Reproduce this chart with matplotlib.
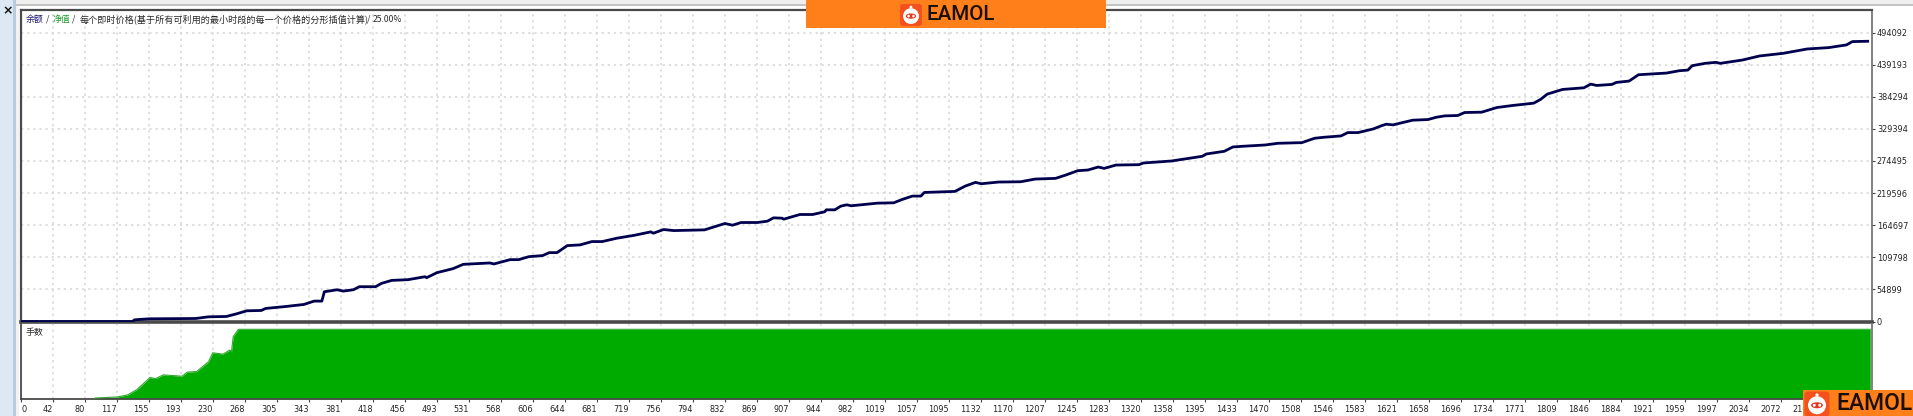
import matplotlib
matplotlib.use("Agg")
import matplotlib.pyplot as plt
from matplotlib.patches import Rectangle, Circle, FancyBboxPatch, Ellipse
from matplotlib.transforms import Affine2D

plt.rcParams['font.family'] = ['Noto Sans CJK SC', 'DejaVu Sans']

W, H = 1913, 416

# Equity curve: bar number / balance
bars = [0, 131, 133, 150, 205, 220, 241, 253, 265, 282, 287, 311, 332, 344, 353, 356, 371, 378, 390, 397,
        416, 423, 435, 454, 474, 476, 488, 507, 519, 550, 555, 574, 584, 596, 612, 620, 629, 641, 656, 670,
        682, 699, 720, 739, 742, 754, 766, 802, 816, 826, 835, 845, 864, 876, 883, 893, 895, 914, 929, 943,
        945, 955, 962, 969, 974, 1005, 1024, 1034, 1046, 1056, 1060, 1096, 1108, 1120, 1127, 1147, 1173, 1190, 1214, 1226,
        1240, 1252, 1264, 1271, 1285, 1312, 1317, 1350, 1386, 1391, 1412, 1422, 1434, 1460, 1475, 1503, 1518, 1529, 1549, 1557,
        1569, 1587, 1597, 1602, 1610, 1633, 1651, 1661, 1671, 1686, 1694, 1714, 1732, 1750, 1775, 1783, 1791, 1809, 1834, 1842,
        1849, 1867, 1872, 1887, 1898, 1931, 1946, 1956, 1961, 1976, 1989, 1994, 2020, 2040, 2068, 2096, 2121, 2142, 2149, 2167]
balance = [0, 0, 2860, 4575, 5147, 8007, 8579, 13154, 18300, 18873, 22300, 25700, 29170, 34900, 34900, 50900, 54300, 52000, 54300, 59500,
           59500, 65200, 70300, 71500, 76600, 74900, 83500, 90400, 97800, 100100, 98400, 105800, 105800, 110900, 112700, 117800, 117800, 129800, 131000, 136700,
           136700, 142400, 147500, 153300, 151000, 157300, 155500, 156700, 163000, 167600, 164700, 169300, 169300, 171600, 177300, 176700, 175000, 183000, 183000, 187600,
           191000, 191000, 197300, 199600, 197900, 202400, 203000, 208700, 214500, 214500, 220700, 222500, 231600, 237900, 235600, 238500, 239000, 243600, 244800, 250500,
           257900, 259100, 264200, 261900, 267600, 268200, 271100, 274500, 282500, 286500, 291100, 298500, 299700, 301900, 304800, 305900, 313400, 315100, 317400, 323100,
           323100, 329400, 335100, 337400, 336300, 344300, 345400, 349400, 351700, 352300, 357400, 358000, 366000, 369400, 373400, 379700, 388900, 396900, 399700, 406000,
           403700, 405500, 408900, 411200, 422000, 424900, 428900, 430000, 437500, 441500, 443200, 441500, 447200, 454100, 458700, 466100, 468400, 473000, 478700, 479300]

# Lot panel (percent of panel maximum)
lot_bars = [87, 113, 125, 136, 148, 151, 158, 167, 189, 195, 206, 220, 225, 237, 245, 247, 249, 255, 2170]
lot_vals = [1.4, 2.9, 5.8, 13.5, 27, 30.8, 29.3, 34.6, 32.7, 38.5, 39.4, 53.4, 66.3, 64.4, 70.2, 67.8, 89.4, 100, 100]

x_labels = ['0', '42', '80', '117', '155', '193', '230', '268', '305', '343', '381', '418', '456', '493', '531',
            '568', '606', '644', '681', '719', '756', '794', '832', '869', '907', '944', '982', '1019', '1057',
            '1095', '1132', '1170', '1207', '1245', '1283', '1320', '1358', '1395', '1433', '1470', '1508', '1546',
            '1583', '1621', '1658', '1696', '1734', '1771', '1809', '1846', '1884', '1921', '1959', '1997', '2034',
            '2072', '2109']
y_ticks = [0, 54899, 109798, 164697, 219596, 274495, 329394, 384294, 439193, 494092]

BAR_STEP = 37.55
L, R, T, MB, ST, SB = 21, 1872, 10, 321.5, 324, 399
XMAX = (R - L) * BAR_STEP / 32
YMAX = (MB - T) / 32.1 * 54899
LOTMAX = 100 * (SB - ST) / (SB - 329.3)
GRID = '#D6D6D6'

fig = plt.figure(figsize=(W / 100, H / 100), dpi=100, facecolor='white')
PX = Affine2D().scale(1, -1).translate(0, H)


def rect(x0, y0, x1, y1, color, z=0.5):
    fig.add_artist(Rectangle((x0, y0), x1 - x0, y1 - y0, transform=PX, fc=color, ec='none', zorder=z))


rect(0, 0, W, 4, '#EFEFEF')
rect(15, 4, W, 5.5, '#C4C4C4')
rect(0, 0, 13, H, '#DCE8F3')
rect(13, 0, 16, H, '#B9CBDC')
rect(16, 5.5, 19, H, '#F2F2F2')

ax = fig.add_axes([L / W, 1 - MB / H, (R - L) / W, (MB - T) / H])
sub = fig.add_axes([L / W, 1 - SB / H, (R - L) / W, (SB - ST) / H])

xt = [i * BAR_STEP for i in range(len(x_labels))]
for a in (ax, sub):
    a.set_xlim(0, XMAX)
    a.set_xticks(xt)
    a.grid(axis='x', color=GRID, linestyle=(0, (1.5, 2.5)), linewidth=1.1)
    a.set_axisbelow(True)
    for s in a.spines.values():
        s.set_color('#4A4A4A')
        s.set_linewidth(1.3)

ax.plot(bars, balance, color='#00004E', lw=2.0, solid_joinstyle='round', zorder=3)
ax.set_ylim(0, YMAX)
ax.set_yticks(y_ticks)
ax.set_yticklabels([str(v) for v in y_ticks], fontsize=5.9, color='#222222', family='DejaVu Sans')
ax.yaxis.tick_right()
ax.tick_params(axis='y', length=2.5, width=0.8, pad=1, color='#444444')
ax.tick_params(axis='x', length=0, labelbottom=False)
ax.grid(axis='y', color=GRID, linestyle=(0, (1.5, 2.5)), linewidth=1.1)
ax.spines['bottom'].set_linewidth(2.6)
ax.spines['left'].set_linewidth(1.6)
ax.spines['top'].set_linewidth(1.6)
ax.spines['right'].set_color('#777777')

sub.fill_between(lot_bars, 0, lot_vals, color='#00AB00', lw=0, zorder=2)
sub.plot(lot_bars, lot_vals, color='#2FA82F', lw=0.8, zorder=3)
sub.set_ylim(0, LOTMAX)
sub.set_yticks([])
sub.set_xticklabels(x_labels, fontsize=5.9, color='#222222', family='DejaVu Sans', ha='right')
sub.get_xticklabels()[0].set_ha('left')
sub.tick_params(axis='x', length=2, width=0.8, pad=2.5, color='#444444')
sub.spines['top'].set_visible(False)
sub.spines['right'].set_color('#777777')


def label(x, y, s, color='#2A2A2A', size=6.2):
    fig.text(x, y, s, transform=PX, fontsize=size, color=color, va='center', ha='left',
             family=['Noto Sans CJK SC', 'DejaVu Sans'], zorder=4)


label(26, 19, '余额', '#1B1B78', 6.4)
label(46, 19, '/')
label(53, 19, '净值', '#1E9A2E', 6.4)
label(72, 19, '/')
label(80, 19, '每个即时价格(基于所有可利用的最小时段的每一个价格的分形插值计算)', size=6.55)
label(367, 19, '/')
label(373, 19, '25.00%', size=6.2)
label(26, 332, '手数', size=6.4)

fig.text(8, 10.5, '×', transform=PX, fontsize=9, fontweight='bold', color='#111111', ha='center', va='center',
         family='DejaVu Sans', zorder=4)


def logo(cx, cy, r, size, tx, bg):
    fig.add_artist(FancyBboxPatch((cx - r, cy - r), 2 * r, 2 * r, boxstyle=f'round,pad=0,rounding_size={r * 0.3}',
                                  transform=PX, fc=bg, ec='none', zorder=11))
    fig.add_artist(Circle((cx, cy + r * 0.1), r * 0.72, transform=PX, fc='white', ec='none', zorder=12))
    fig.add_artist(Circle((cx, cy - r * 0.72), r * 0.13, transform=PX, fc='white', ec='none', zorder=12))
    fig.add_artist(Ellipse((cx, cy + r * 0.1), r * 0.95, r * 0.48, transform=PX, fc='#E2381C', ec='none', zorder=13))
    fig.add_artist(Circle((cx - r * 0.22, cy + r * 0.1), r * 0.12, transform=PX, fc='white', ec='none', zorder=14))
    fig.add_artist(Circle((cx + r * 0.22, cy + r * 0.1), r * 0.12, transform=PX, fc='white', ec='none', zorder=14))
    fig.text(tx, cy, 'EAMOL', transform=PX, fontsize=size, color='#1A1008', ha='left', va='center',
             family='Roboto', fontweight='medium', zorder=14)


rect(806, 0, 1106, 28, '#FF7F1A', z=10)
logo(911, 15, 11, 14.8, 927, '#F4511E')
rect(1803, 390, W, H, '#FF7F1A', z=10)
logo(1817, 404, 12.5, 16.5, 1836, '#F4511E')

fig.savefig('out.png', dpi=100, facecolor='white')
